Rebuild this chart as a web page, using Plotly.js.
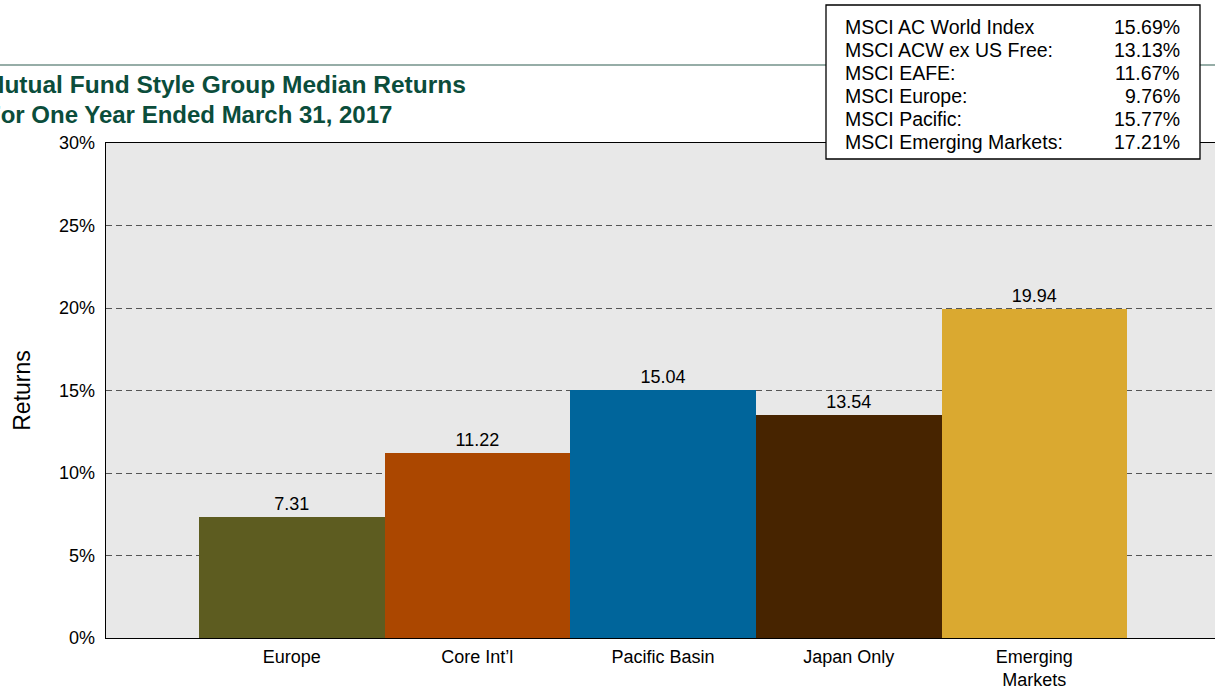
<!DOCTYPE html>
<html>
<head>
<meta charset="utf-8">
<script src="https://cdn.plot.ly/plotly-3.0.1.min.js"></script>
<style>html,body{margin:0;padding:0;background:#fff;}#chart{width:1215px;height:688px;}</style>
</head>
<body>
<div id="chart"></div>
<script>
const categories = ["Europe", "Core Int\u2019l", "Pacific Basin", "Japan Only", "Emerging<br>Markets"];
const returns = [7.31, 11.22, 15.04, 13.54, 19.94];
const barColors = ["#5d5c20", "#ab4700", "#00659b", "#472400", "#daa930"];
const yTicks = [0, 5, 10, 15, 20, 25, 30];
const yTickLabels = ["0%", "5%", "10%", "15%", "20%", "25%", "30%"];
const indexNames = ["MSCI AC World Index", "MSCI ACW ex US Free:", "MSCI EAFE:", "MSCI Europe:", "MSCI Pacific:", "MSCI Emerging Markets:"];
const indexValues = ["15.69%", "13.13%", "11.67%", "9.76%", "15.77%", "17.21%"];
const titleLines = ["Mutual Fund Style Group Median Returns", "For One Year Ended March 31, 2017"];

const FONT = "Liberation Sans, Arial, Helvetica, sans-serif";
const W = 1215, H = 688;
const M = {l: 106, r: 0, t: 143, b: 50};
const PW = W - M.l - M.r, PH = H - M.t - M.b;
const px = x => (x - M.l) / PW;
const py = y => (H - M.b - y) / PH;

const trace = {
  type: "bar",
  x: categories,
  y: returns,
  marker: {color: barColors, line: {width: 0}},
  text: returns.map(v => v.toFixed(2)),
  textposition: "outside",
  textfont: {family: FONT, size: 18, color: "#000"},
  cliponaxis: false,
  hoverinfo: "x+y"
};

const annotations = [];
// Title lines (left part cut off by the page edge, as in the reference)
annotations.push({xref: "paper", yref: "paper", x: px(-18.5), y: py(85), xanchor: "left", yanchor: "middle",
  text: "<b>" + titleLines[0] + "</b>", showarrow: false, font: {family: FONT, size: 24.5, color: "#0b4d3b"}});
annotations.push({xref: "paper", yref: "paper", x: px(-16), y: py(114), xanchor: "left", yanchor: "middle",
  text: "<b>" + titleLines[1] + "</b>", showarrow: false, font: {family: FONT, size: 24, color: "#0b4d3b"}});
// Index box rows
indexNames.forEach((n, i) => {
  const yy = 27 + i * 23;
  annotations.push({xref: "paper", yref: "paper", x: px(843), y: py(yy), xanchor: "left", yanchor: "middle",
    text: n, showarrow: false, font: {family: FONT, size: 19.5, color: "#000"}});
  annotations.push({xref: "paper", yref: "paper", x: px(1182), y: py(yy), xanchor: "right", yanchor: "middle",
    text: indexValues[i], showarrow: false, font: {family: FONT, size: 19.5, color: "#000"}});
});

const shapes = [
  {type: "line", xref: "paper", yref: "paper", x0: px(0), x1: px(1215), y0: py(65), y1: py(65),
   line: {color: "#2f5d50", width: 1.2}, layer: "above"},
  {type: "rect", xref: "paper", yref: "paper", x0: px(826), x1: px(1200), y0: py(5), y1: py(159),
   fillcolor: "#ffffff", line: {color: "#000", width: 1.3}, layer: "above"}
];

const layout = {
  width: W, height: H,
  margin: M,
  paper_bgcolor: "#ffffff",
  plot_bgcolor: "#e8e8e8",
  showlegend: false,
  bargap: 0,
  font: {family: FONT, size: 18, color: "#000"},
  xaxis: {
    type: "category",
    range: [-1, 4.973],
    showline: true, linecolor: "#000", linewidth: 1.3, mirror: true,
    ticks: "", showgrid: false, zeroline: false,
    tickfont: {family: FONT, size: 18, color: "#000"},
    ticklabelstandoff: 2,
    fixedrange: true
  },
  yaxis: {
    range: [0, 30],
    tickvals: yTicks, ticktext: yTickLabels,
    showline: true, linecolor: "#000", linewidth: 1.3,
    ticks: "", zeroline: false,
    showgrid: true, gridcolor: "#555555", gridwidth: 1, griddash: "6px,4px",
    tickfont: {family: FONT, size: 18, color: "#000"},
    ticklabelstandoff: 6,
    title: {text: "Returns", font: {family: FONT, size: 23, color: "#000"}, standoff: 22},
    fixedrange: true
  },
  annotations: annotations,
  shapes: shapes
};

Plotly.newPlot("chart", [trace], layout, {displayModeBar: false, staticPlot: true});
</script>
</body>
</html>
